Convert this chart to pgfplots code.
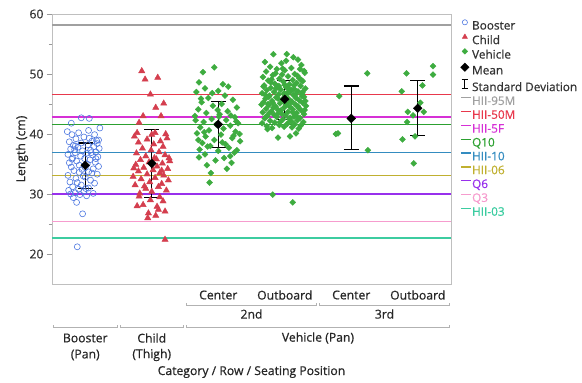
\documentclass[border=0pt]{standalone}
\usepackage{fontspec}
\setmainfont{Open Sans}[FakeBold=0.6]
\usepackage{pgfplots}
\pgfplotsset{compat=1.18}
\definecolor{booster}{RGB}{78,120,224}
\definecolor{child}{RGB}{212,62,78}
\definecolor{vehicle}{RGB}{62,172,64}
\definecolor{c95M}{RGB}{160,160,160}
\definecolor{c50M}{RGB}{232,56,76}
\definecolor{c5F}{RGB}{214,48,214}
\definecolor{cQ10}{RGB}{44,160,48}
\definecolor{cH10}{RGB}{52,140,192}
\definecolor{cH06}{RGB}{192,176,48}
\definecolor{cQ6}{RGB}{152,48,236}
\definecolor{cQ3}{RGB}{246,156,206}
\definecolor{cH03}{RGB}{60,204,160}
\newcommand\lblfont{\fontsize{12.2}{14}\selectfont}
\newcommand\legfont{\fontsize{11.8}{14}\selectfont}
\pgfplotsset{
  legline/.style={legend image code/.code={\draw[##1] (0pt,4pt) -- (10pt,4pt);}},
  legmark/.style={legend image code/.code={\draw[##1] plot coordinates {(4pt,4pt)};}},
  legsd/.style={legend image code/.code={\draw[black, line width=1.1pt] (4pt,-0.5pt)--(4pt,8.5pt) (0.8pt,-0.5pt)--(7.2pt,-0.5pt) (0.8pt,8.5pt)--(7.2pt,8.5pt);}},
}
\begin{document}
\begin{tikzpicture}
\begin{axis}[
  scale only axis, width=399pt, height=270pt,
  xmin=-0.5, xmax=5.5, ymin=15, ymax=60,
  xtick=\empty, ytick={20,30,40,50,60}, minor ytick={25,35,45,55},
  ytick pos=left, tick align=outside, major tick length=5pt, minor tick length=3pt,
  every tick/.style={black!40, line width=0.6pt},
  axis line style={black!25, line width=0.8pt},
  clip=false, unbounded coords=jump,
  /pgf/number format/assume math mode=true,
  yticklabel style={font=\lblfont, text=black!80},
  ylabel={Length (cm)},
  ylabel style={at={(axis description cs:-0.0752,0.5)}, anchor=center, font=\lblfont, text=black!85},
  xlabel={Category / Row / Seating Position},
  xlabel style={at={(axis description cs:0.5,0)}, anchor=center, yshift=-88pt, font=\lblfont, text=black!85},
  legend style={at={(1,1)}, anchor=north west, xshift=9pt, yshift=-5.5pt, draw=none, fill=none,
    inner sep=0pt, row sep=1.35pt, font=\legfont, nodes={inner sep=0.5pt, text height=9pt, text depth=2.5pt}},
  legend cell align=left,
]
% reference lines
\addplot[c95M, line width=1.7pt, forget plot] coordinates {(-0.5,58.2) (5.5,58.2)};
\addplot[c50M, line width=1.7pt, forget plot] coordinates {(-0.5,46.6) (5.5,46.6)};
\addplot[c5F, line width=1.7pt, forget plot] coordinates {(-0.5,42.8) (5.5,42.8)};
\addplot[cQ10, line width=1.7pt, forget plot] coordinates {(-0.5,41.6) (5.5,41.6)};
\addplot[cH10, line width=1.7pt, forget plot] coordinates {(-0.5,36.9) (5.5,36.9)};
\addplot[cH06, line width=1.7pt, forget plot] coordinates {(-0.5,33.1) (5.5,33.1)};
\addplot[cQ6, line width=1.7pt, forget plot] coordinates {(-0.5,30.0) (5.5,30.0)};
\addplot[cQ3, line width=1.7pt, forget plot] coordinates {(-0.5,25.4) (5.5,25.4)};
\addplot[cH03, line width=1.7pt, forget plot] coordinates {(-0.5,22.7) (5.5,22.7)};
% Booster
\addplot[only marks, mark=o, mark size=3pt, booster, mark options={line width=0.6pt}, forget plot]
table[x expr=\thisrowno{0}+0, y index=1] {
-0.12 21.2
-0.04 26.7
-0.13 28.6
-0.18 29.4
-0.08 29.9
-0.22 30.0
-0.15 30.2
0.02 29.7
-0.25 30.6
-0.10 30.8
-0.02 30.4
0.05 31.0
-0.19 31.2
-0.06 31.5
0.14 31.8
-0.23 32.0
0.08 32.3
-0.14 32.6
0.00 32.8
-0.26 33.1
0.18 33.3
0.10 33.5
0.05 33.7
-0.17 33.9
-0.05 34.1
0.12 34.2
-0.21 34.5
0.20 34.6
-0.09 34.8
0.03 35.0
-0.24 35.2
0.15 35.3
-0.13 35.5
0.07 35.7
-0.01 35.9
-0.19 36.0
0.19 36.2
-0.07 36.3
0.11 36.5
-0.26 36.6
0.02 36.8
-0.15 36.9
0.16 37.0
-0.04 37.2
0.08 37.3
-0.22 37.5
0.21 37.6
-0.11 37.8
0.13 37.9
-0.18 38.1
0.04 38.2
0.18 38.4
-0.06 38.5
-0.24 38.7
0.10 38.8
0.20 39.0
-0.14 39.2
0.06 39.3
-0.02 39.5
-0.20 39.9
0.14 39.9
-0.10 40.2
-0.27 40.4
0.05 40.6
0.22 41.0
-0.21 41.8
-0.06 42.7
0.06 42.6
-0.16 37.4
0.00 34.4
-0.12 31.9
0.16 35.9
-0.03 33.0
0.12 30.1
-0.20 35.8
0.09 36.9
-0.09 33.6
0.17 38.9
-0.15 38.0
0.01 30.9
};
% Child
\addplot[only marks, mark=triangle*, mark size=3.6pt, child, forget plot]
table[x expr=\thisrowno{0}+1, y index=1] {
-0.15 50.5
-0.10 49.1
0.09 49.4
-0.02 46.6
0.06 44.4
0.18 45.1
-0.13 43.0
0.14 43.0
-0.19 41.9
-0.22 40.2
0.05 40.2
0.21 40.0
0.20 22.4
-0.06 26.0
-0.22 28.0
-0.13 28.2
-0.05 26.8
0.06 26.4
0.08 27.9
0.20 27.1
0.17 28.8
-0.02 29.0
0.12 29.5
-0.18 30.1
0.00 30.4
0.22 30.6
-0.09 30.9
0.10 31.2
-0.25 31.5
0.15 31.7
-0.03 32.0
0.25 32.3
-0.16 32.5
0.05 32.7
-0.28 32.9
0.18 33.1
-0.07 33.3
0.12 33.5
-0.20 33.8
0.02 34.0
0.24 34.2
-0.12 34.4
0.08 34.6
-0.24 34.9
0.16 35.1
-0.04 35.3
0.27 35.5
-0.17 35.7
0.04 36.0
-0.09 36.3
0.20 36.5
-0.23 36.8
0.11 37.0
-0.01 37.3
-0.14 37.6
0.17 37.9
0.03 38.3
-0.20 38.6
0.13 38.8
-0.07 39.1
0.23 39.3
-0.26 39.6
0.00 39.9
0.15 33.9
-0.11 31.3
0.07 35.8
-0.19 29.6
0.26 36.0
0.10 27.4
-0.27 34.3
};
% Vehicle 2nd Center
\addplot[only marks, mark=square*, mark size=2.1pt, vehicle, mark options={rotate=45}, forget plot]
table[x expr=\thisrowno{0}+2, y index=1] {
-0.23 50.3
-0.06 51.1
0.07 48.3
-0.29 48.6
-0.13 31.9
-0.11 33.5
-0.29 36.1
0.20 35.2
0.18 36.3
-0.20 47.6
0.00 47.2
-0.33 47.0
0.10 46.4
-0.15 46.0
0.22 45.7
-0.25 45.3
0.05 45.0
-0.08 44.7
0.28 44.4
-0.30 44.1
0.14 43.8
-0.18 43.5
0.02 43.3
-0.35 43.0
0.25 42.8
-0.10 42.5
0.12 42.3
-0.22 42.0
0.30 41.8
-0.03 41.6
0.18 41.4
-0.27 41.1
0.08 40.9
-0.14 40.6
0.26 40.4
-0.32 40.1
0.04 39.9
-0.19 39.6
0.21 39.3
-0.06 39.0
0.33 38.8
-0.24 38.5
0.11 38.3
-0.12 38.0
0.16 37.7
-0.28 37.4
0.00 37.2
0.24 36.9
-0.20 36.6
0.09 36.0
-0.04 35.6
0.28 37.3
-0.17 34.8
0.13 34.2
-0.26 45.9
0.19 43.1
-0.01 44.0
-0.30 39.0
0.32 40.0
-0.09 46.8
0.15 47.9
-0.21 40.3
0.06 38.6
0.27 42.1
-0.16 37.9
0.01 42.9
-0.34 42.3
0.23 39.7
};
% Vehicle 2nd Outboard
\addplot[only marks, mark=square*, mark size=2.1pt, vehicle, mark options={rotate=45}, forget plot]
table[x expr=\thisrowno{0}+3, y index=1] {
-0.18 29.9
0.12 28.6
-0.17 53.3
0.03 53.3
0.02 52.2
0.29 50.5
-0.10 39.4
0.08 39.6
0.17 40.1
-0.26 40.8
-0.30 52.0
0.20 52.4
-0.05 51.8
0.25 51.5
-0.22 51.2
0.10 51.0
-0.12 50.8
0.30 50.2
-0.28 50.4
0.00 50.6
0.15 50.0
-0.18 49.8
0.05 49.6
-0.33 49.5
0.22 49.3
-0.08 49.2
0.12 49.0
-0.25 48.9
0.27 48.8
-0.02 48.7
0.18 48.5
-0.15 48.4
0.07 48.3
-0.31 48.1
0.24 48.0
-0.11 47.9
0.02 47.8
-0.21 47.7
0.31 47.6
0.14 47.5
-0.06 47.4
-0.27 47.3
0.09 47.2
0.20 47.1
-0.16 47.0
0.04 46.9
-0.34 46.8
0.26 46.7
-0.09 46.6
0.13 46.5
-0.23 46.4
0.00 46.3
0.29 46.2
-0.13 46.1
0.17 46.0
-0.29 45.9
0.06 45.8
-0.04 45.7
0.22 45.6
-0.19 45.5
0.11 45.4
-0.32 45.3
0.27 45.2
-0.07 45.1
0.03 45.0
0.16 44.9
-0.24 44.8
0.32 44.7
-0.14 44.6
0.08 44.5
-0.01 44.4
0.21 44.3
-0.28 44.2
0.12 44.1
-0.10 44.0
0.25 43.9
-0.20 43.8
0.05 43.7
-0.33 43.6
0.18 43.5
-0.05 43.4
0.29 43.3
-0.16 43.2
0.01 43.1
-0.26 43.0
0.14 42.9
-0.12 42.8
0.23 42.7
-0.30 42.6
0.07 42.5
-0.03 42.4
0.19 42.3
-0.22 42.2
0.10 42.1
0.28 42.0
-0.15 41.9
-0.34 41.8
0.04 41.7
0.15 41.6
-0.08 41.5
0.24 41.4
-0.27 41.3
-0.01 41.2
0.11 41.1
-0.19 41.0
0.21 40.9
-0.11 43.3
0.06 46.9
-0.21 48.6
0.19 49.7
-0.03 50.9
0.13 52.8
-0.25 45.0
0.30 44.0
-0.13 47.6
0.00 48.2
-0.07 42.0
0.26 46.3
-0.32 47.9
0.09 45.3
-0.17 44.4
0.17 43.0
-0.04 49.9
0.23 50.8
-0.29 46.5
0.02 44.8
-0.10 45.9
0.14 48.1
-0.20 49.1
0.27 47.0
-0.06 43.9
0.08 42.7
-0.24 46.2
0.31 45.5
-0.14 50.1
0.05 47.7
0.20 44.6
-0.35 44.9
-0.09 48.0
0.16 46.6
-0.28 42.9
0.01 45.1
0.12 43.6
-0.18 45.2
0.25 49.0
-0.01 46.8
-0.23 43.5
0.10 47.3
};
% Vehicle 3rd Center
\addplot[only marks, mark=square*, mark size=2.1pt, vehicle, mark options={rotate=45}, forget plot]
table[x expr=\thisrowno{0}+4, y index=1] {
-0.18 46.3
0.24 50.1
-0.23 40.0
-0.20 40.1
0.25 37.3
};
% Vehicle 3rd Outboard
\addplot[only marks, mark=square*, mark size=2.1pt, vehicle, mark options={rotate=45}, forget plot]
table[x expr=\thisrowno{0}+5, y index=1] {
-0.17 50.1
0.23 51.3
0.23 49.9
0.07 48.1
-0.24 47.1
0.04 45.2
-0.15 43.7
-0.07 43.1
0.09 43.7
-0.16 42.0
-0.23 39.1
-0.04 39.6
-0.06 35.1
};
% Standard deviation bars: vertical part (mean - SD to mean + SD)
\addplot[black, line width=1.3pt, forget plot] coordinates {
(0,30.9) (0,38.5) (0,nan)
(1,29.4) (1,40.7) (1,nan)
(2,37.8) (2,45.4) (2,nan)
(3,42.4) (3,48.9) (3,nan)
(4,37.4) (4,48.0) (4,nan)
(5,39.7) (5,48.9)
};
% caps
\addplot[black, line width=1.3pt, forget plot] coordinates {
(-0.11,30.9) (0.11,30.9) (0,nan) (-0.11,38.5) (0.11,38.5) (0,nan)
(0.89,29.4) (1.11,29.4) (1,nan) (0.89,40.7) (1.11,40.7) (1,nan)
(1.89,37.8) (2.11,37.8) (2,nan) (1.89,45.4) (2.11,45.4) (2,nan)
(2.89,42.4) (3.11,42.4) (3,nan) (2.89,48.9) (3.11,48.9) (3,nan)
(3.89,37.4) (4.11,37.4) (4,nan) (3.89,48.0) (4.11,48.0) (4,nan)
(4.89,39.7) (5.11,39.7) (5,nan) (4.89,48.9) (5.11,48.9)
};
% Means
\addplot[only marks, mark=square*, mark size=3.1pt, black, mark options={rotate=45}, forget plot]
table[x=x, y=y] {
x y
0 34.8
1 35.1
2 41.6
3 45.8
4 42.6
5 44.3
};
% legend
\addlegendimage{legmark, only marks, mark=o, mark size=2.6pt, booster, mark options={line width=0.6pt}}
\addlegendentry{\textcolor{black!80}{Booster}}
\addlegendimage{legmark, only marks, mark=triangle*, mark size=3pt, child}
\addlegendentry{\textcolor{black!80}{Child}}
\addlegendimage{legmark, only marks, mark=square*, mark size=2pt, vehicle, mark options={rotate=45}}
\addlegendentry{\textcolor{black!80}{Vehicle}}
\addlegendimage{legmark, only marks, mark=square*, mark size=3pt, black, mark options={rotate=45}}
\addlegendentry{\textcolor{black!80}{Mean}}
\addlegendimage{legsd}
\addlegendentry{\textcolor{black!80}{Standard Deviation}}
\addlegendimage{legline, c95M, line width=1.4pt}
\addlegendentry{\textcolor{c95M}{HII-95M}}
\addlegendimage{legline, c50M, line width=1.4pt}
\addlegendentry{\textcolor{c50M}{HII-50M}}
\addlegendimage{legline, c5F, line width=1.4pt}
\addlegendentry{\textcolor{c5F}{HII-5F}}
\addlegendimage{legline, cQ10, line width=1.4pt}
\addlegendentry{\textcolor{cQ10}{Q10}}
\addlegendimage{legline, cH10, line width=1.4pt}
\addlegendentry{\textcolor{cH10}{HII-10}}
\addlegendimage{legline, cH06, line width=1.4pt}
\addlegendentry{\textcolor{cH06}{HII-06}}
\addlegendimage{legline, cQ6, line width=1.4pt}
\addlegendentry{\textcolor{cQ6}{Q6}}
\addlegendimage{legline, cQ3, line width=1.4pt}
\addlegendentry{\textcolor{cQ3}{Q3}}
\addlegendimage{legline, cH03, line width=1.4pt}
\addlegendentry{\textcolor{cH03}{HII-03}}
% hierarchical x labels
\begin{scope}[every node/.style={font=\lblfont, text=black!85}]
\node at ([yshift=-11pt]axis cs:2,15) {Center};
\node at ([yshift=-11pt]axis cs:3,15) {Outboard};
\node at ([yshift=-11pt]axis cs:4,15) {Center};
\node at ([yshift=-11pt]axis cs:5,15) {Outboard};
\node at ([yshift=-30pt]axis cs:2.5,15) {2nd};
\node at ([yshift=-30pt]axis cs:4.5,15) {3rd};
\node at ([yshift=-54pt]axis cs:0,15) {Booster};
\node at ([yshift=-71pt]axis cs:0,15) {(Pan)};
\node at ([yshift=-54pt]axis cs:1,15) {Child};
\node at ([yshift=-71pt]axis cs:1,15) {(Thigh)};
\node at ([yshift=-54pt]axis cs:3.5,15) {Vehicle (Pan)};
\end{scope}
\begin{scope}[black!30, line width=0.6pt]
\draw ([yshift=-19pt]axis cs:1.52,15) -- ([yshift=-21pt]axis cs:1.52,15) -- ([yshift=-21pt]axis cs:3.48,15) -- ([yshift=-19pt]axis cs:3.48,15);
\draw ([yshift=-19pt]axis cs:3.52,15) -- ([yshift=-21pt]axis cs:3.52,15) -- ([yshift=-21pt]axis cs:5.48,15) -- ([yshift=-19pt]axis cs:5.48,15);
\draw ([yshift=-41pt]axis cs:-0.48,15) -- ([yshift=-43pt]axis cs:-0.48,15) -- ([yshift=-43pt]axis cs:0.48,15) -- ([yshift=-41pt]axis cs:0.48,15);
\draw ([yshift=-41pt]axis cs:0.52,15) -- ([yshift=-43pt]axis cs:0.52,15) -- ([yshift=-43pt]axis cs:1.48,15) -- ([yshift=-41pt]axis cs:1.48,15);
\draw ([yshift=-41pt]axis cs:1.52,15) -- ([yshift=-43pt]axis cs:1.52,15) -- ([yshift=-43pt]axis cs:5.48,15) -- ([yshift=-41pt]axis cs:5.48,15);
\end{scope}
\end{axis}
\pgfresetboundingbox
\path (-52pt,-99pt) rectangle (530pt,284pt);
\end{tikzpicture}
\end{document}
